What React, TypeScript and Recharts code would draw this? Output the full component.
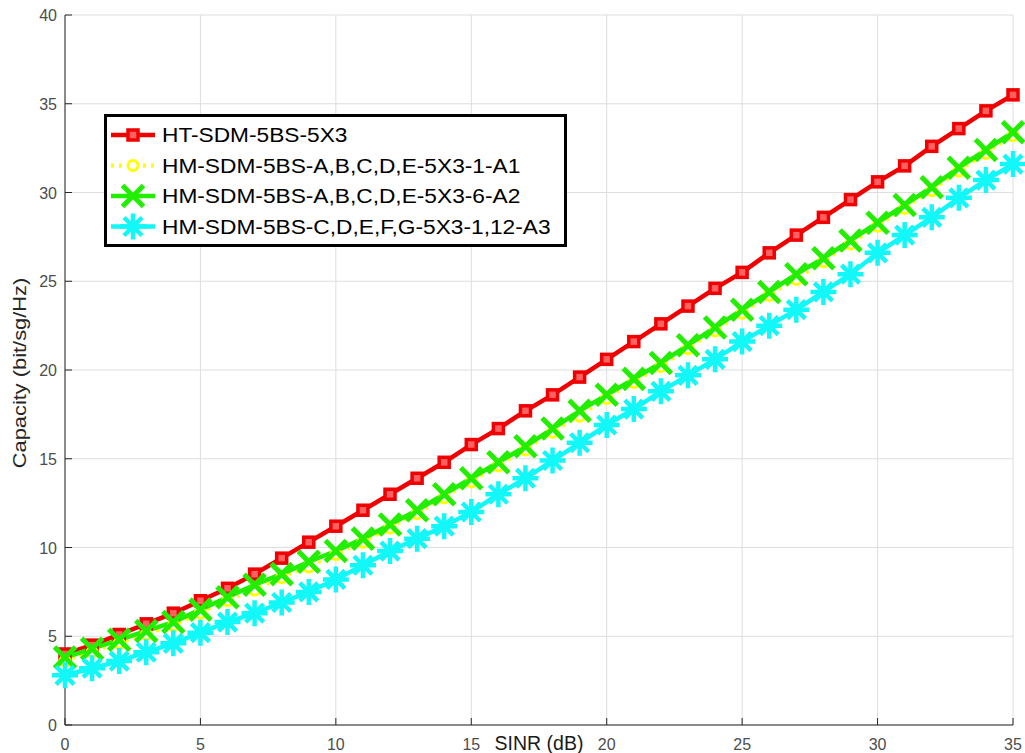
import { LineChart, Line, XAxis, YAxis, CartesianGrid, Legend } from "recharts";

const sinrDb = [0, 1, 2, 3, 4, 5, 6, 7, 8, 9, 10, 11, 12, 13, 14, 15, 16, 17, 18, 19, 20, 21, 22, 23, 24, 25, 26, 27, 28, 29, 30, 31, 32, 33, 34, 35];

const htSdm = [4.0, 4.5, 5.1, 5.7, 6.3, 7.0, 7.7, 8.5, 9.4, 10.3, 11.2, 12.1, 13.0, 13.9, 14.8, 15.8, 16.7, 17.7, 18.6, 19.6, 20.6, 21.6, 22.6, 23.6, 24.6, 25.5, 26.6, 27.6, 28.6, 29.6, 30.6, 31.5, 32.6, 33.6, 34.6, 35.5];
const hmA1 = [3.6, 4.1, 4.6, 5.1, 5.6, 6.3, 7.0, 7.6, 8.3, 8.9, 9.6, 10.3, 11.1, 11.9, 12.8, 13.7, 14.6, 15.5, 16.5, 17.4, 18.4, 19.3, 20.2, 21.2, 22.2, 23.2, 24.2, 25.1, 26.1, 27.1, 28.1, 29.1, 30.1, 31.2, 32.2, 33.2];
const hmA2 = [3.8, 4.3, 4.8, 5.3, 5.8, 6.5, 7.2, 7.9, 8.5, 9.2, 9.8, 10.5, 11.3, 12.1, 13.0, 13.9, 14.8, 15.7, 16.7, 17.7, 18.6, 19.5, 20.4, 21.4, 22.4, 23.4, 24.4, 25.4, 26.3, 27.3, 28.3, 29.3, 30.3, 31.4, 32.4, 33.4];
const hmA3 = [2.8, 3.2, 3.6, 4.1, 4.6, 5.2, 5.8, 6.3, 6.9, 7.5, 8.2, 9.0, 9.8, 10.5, 11.2, 12.0, 13.0, 13.9, 14.9, 15.9, 16.9, 17.8, 18.8, 19.7, 20.6, 21.6, 22.5, 23.4, 24.4, 25.4, 26.6, 27.6, 28.6, 29.7, 30.7, 31.6];

const seriesNames = [
  "HT-SDM-5BS-5X3",
  "HM-SDM-5BS-A,B,C,D,E-5X3-1-A1",
  "HM-SDM-5BS-A,B,C,D,E-5X3-6-A2",
  "HM-SDM-5BS-C,D,E,F,G-5X3-1,12-A3",
];

const xTicks = [0, 5, 10, 15, 20, 25, 30, 35];
const yTicks = [0, 5, 10, 15, 20, 25, 30, 35, 40];

const data = sinrDb.map((x, i) => ({ x, ht: htSdm[i], a1: hmA1[i], a2: hmA2[i], a3: hmA3[i] }));

const RED = "#f00000";
const YELLOW = "#ffff00";
const GREEN = "#22ee00";
const CYAN = "#12f7f7";
const AXIS = "#262626";
const TICK_TEXT = "#4d4d4d";
const FONT = "'Liberation Sans', Arial, sans-serif";

// marker shapes, shared by the series and the legend
const square = (cx: number, cy: number) => (
  <rect x={cx - 5} y={cy - 5} width={10} height={10} fill="#ff6060" stroke={RED} strokeWidth={3.5} />
);
const circle = (cx: number, cy: number) => (
  <circle cx={cx} cy={cy} r={5} fill="#fff" stroke={YELLOW} strokeWidth={3} />
);
const cross = (cx: number, cy: number) => (
  <path
    d={`M${cx - 10.5},${cy - 10.5}L${cx + 10.5},${cy + 10.5}M${cx - 10.5},${cy + 10.5}L${cx + 10.5},${cy - 10.5}`}
    stroke={GREEN}
    strokeWidth={5}
  />
);
const star = (cx: number, cy: number) => (
  <path
    d={`M${cx - 13},${cy}L${cx + 13},${cy}M${cx},${cy - 13}L${cx},${cy + 13}M${cx - 9},${cy - 9}L${cx + 9},${cy + 9}M${cx - 9},${cy + 9}L${cx + 9},${cy - 9}`}
    stroke={CYAN}
    strokeWidth={4.5}
  />
);

const dotWith = (shape: (cx: number, cy: number) => JSX.Element) => (p: any) => (
  <g key={`dot-${p.index}`}>{shape(p.cx, p.cy)}</g>
);

const BottomTick = (p: any) => (
  <g>
    <line x1={p.x} y1={p.y} x2={p.x} y2={p.y - 7} stroke={AXIS} />
    <text x={p.x} y={p.y + 25} textAnchor="middle" fontSize={16} fontFamily={FONT} fill={TICK_TEXT}>
      {p.payload.value}
    </text>
  </g>
);
const TopTick = (p: any) => <line x1={p.x} y1={p.y} x2={p.x} y2={p.y + 7} stroke={AXIS} />;
const LeftTick = (p: any) => (
  <g>
    <line x1={p.x} y1={p.y} x2={p.x + 7} y2={p.y} stroke={AXIS} />
    <text x={p.x - 8} y={p.y + 6} textAnchor="end" fontSize={16} fontFamily={FONT} fill={TICK_TEXT}>
      {p.payload.value}
    </text>
  </g>
);
const RightTick = (p: any) => <line x1={p.x} y1={p.y} x2={p.x - 7} y2={p.y} stroke={AXIS} />;

const XLabel = (p: any) => {
  const vb = p.viewBox;
  return (
    <text x={vb.x + vb.width / 2} y={vb.y + 25} textAnchor="middle" fontSize={19.5} fontFamily={FONT} fill="#1a1a1a">
      SINR (dB)
    </text>
  );
};
const YLabel = (p: any) => {
  const vb = p.viewBox;
  const cy = vb.y + vb.height / 2 + 3;
  return (
    <text
      transform={`translate(26,${cy}) rotate(-90) scale(1.18,1)`}
      textAnchor="middle"
      fontSize={18.5}
      fontFamily={FONT}
      fill={AXIS}
    >
      Capacity (bit/sg/Hz)
    </text>
  );
};

const legendRows = [
  { name: seriesNames[0], color: RED, dash: undefined, marker: square },
  { name: seriesNames[1], color: YELLOW, dash: "3 5", marker: circle },
  { name: seriesNames[2], color: GREEN, dash: undefined, marker: cross },
  { name: seriesNames[3], color: CYAN, dash: undefined, marker: star },
];

const LegendBox = () => (
  <div style={{ width: 457, height: 127, border: "3px solid #000", background: "#fff" }}>
    <svg width={457} height={127} style={{ display: "block" }}>
      {legendRows.map((row, i) => {
        const cy = 18 + i * 30.5;
        return (
          <g key={row.name}>
            <line x1={4} x2={48} y1={cy} y2={cy} stroke={row.color} strokeWidth={4.5} strokeDasharray={row.dash} />
            {row.marker(26, cy)}
            <text transform={`translate(55,${cy + 7}) scale(1.165,1)`} fontSize={19.5} fontFamily={FONT} fill="#000">
              {row.name}
            </text>
          </g>
        );
      })}
    </svg>
  </div>
);

export default function App() {
  return (
    <div style={{ position: "absolute", left: 0, top: 0, width: 1025, height: 753, background: "#fff" }}>
      <LineChart width={1025} height={753} data={data} margin={{ top: 15, right: 12, bottom: 0, left: 0 }}>
        <CartesianGrid stroke="#dedede" />
        <XAxis
          dataKey="x"
          type="number"
          domain={[0, 35]}
          ticks={xTicks}
          interval={0}
          height={28}
          tickSize={0}
          tickMargin={0}
          tick={<BottomTick />}
          axisLine={{ stroke: AXIS }}
          label={<XLabel />}
        />
        <XAxis
          xAxisId="top"
          orientation="top"
          dataKey="x"
          type="number"
          domain={[0, 35]}
          ticks={xTicks}
          interval={0}
          height={0}
          tickSize={0}
          tickMargin={0}
          tick={<TopTick />}
          axisLine={{ stroke: AXIS }}
        />
        <YAxis
          type="number"
          domain={[0, 40]}
          ticks={yTicks}
          interval={0}
          width={65}
          tickSize={0}
          tickMargin={0}
          tick={<LeftTick />}
          axisLine={{ stroke: AXIS }}
          label={<YLabel />}
        />
        <YAxis
          yAxisId="right"
          orientation="right"
          type="number"
          domain={[0, 40]}
          ticks={yTicks}
          interval={0}
          width={0}
          tickSize={0}
          tickMargin={0}
          tick={<RightTick />}
          axisLine={{ stroke: AXIS }}
        />
        <Legend
          layout="vertical"
          align="center"
          verticalAlign="middle"
          content={() => <LegendBox />}
          wrapperStyle={{ left: 104, top: 114, width: 463, height: 133, margin: 0, padding: 0 }}
        />
        <Line dataKey="ht" name={seriesNames[0]} stroke={RED} strokeWidth={4.5} dot={dotWith(square)} activeDot={false} isAnimationActive={false} />
        <Line dataKey="a1" name={seriesNames[1]} stroke={YELLOW} strokeWidth={3} strokeDasharray="3 5" dot={dotWith(circle)} activeDot={false} isAnimationActive={false} />
        <Line dataKey="a2" name={seriesNames[2]} stroke={GREEN} strokeWidth={4.5} dot={dotWith(cross)} activeDot={false} isAnimationActive={false} />
        <Line dataKey="a3" name={seriesNames[3]} stroke={CYAN} strokeWidth={4.5} dot={dotWith(star)} activeDot={false} isAnimationActive={false} />
      </LineChart>
    </div>
  );
}
